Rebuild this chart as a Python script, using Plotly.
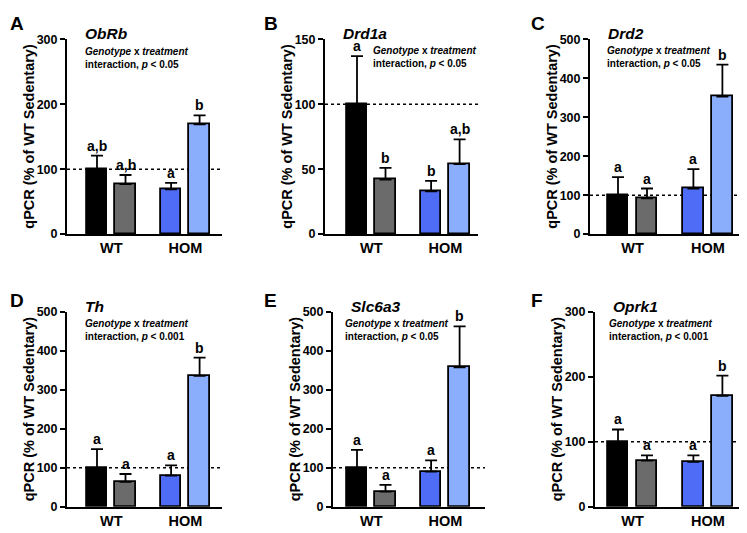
import plotly.graph_objects as go

W, H = 747, 533
OFF = 8  # page body margin offset in px

# ---- data ----
panels = ["A", "B", "C", "D", "E", "F"]
genes = ["ObRb", "Drd1a", "Drd2", "Th", "Slc6a3", "Oprk1"]
pvals = ["p < 0.05", "p < 0.05", "p < 0.05", "p < 0.001", "p < 0.05", "p < 0.001"]
groups = ["WT", "HOM"]
# bar order: WT sedentary, WT treated, HOM sedentary, HOM treated
means = [
    [100, 77, 69, 169],
    [100, 42, 33, 54],
    [100, 92, 117, 353],
    [100, 64, 80, 336],
    [100, 39, 90, 358],
    [100, 71, 69, 171],
]
sems = [
    [21, 14, 10, 14],
    [37, 9, 8, 19],
    [46, 25, 50, 82],
    [48, 20, 26, 47],
    [46, 17, 29, 105],
    [19, 8, 10, 31],
]
letters = [
    ["a,b", "a,b", "a", "b"],
    ["a", "b", "b", "a,b"],
    ["a", "a", "a", "b"],
    ["a", "a", "a", "b"],
    ["a", "a", "a", "b"],
    ["a", "a", "a", "b"],
]
ymax = [300, 150, 500, 500, 500, 300]
ydtick = [100, 50, 100, 100, 100, 100]

colors = ["#000000", "#6b6b6b", "#4f6cf6", "#8aaefb"]
pos = [0, 1, 2.6, 3.6]

# ---- layout geometry (reference pixels) ----
geo = [
    (67, 222, 97, 28.5),
    (325, 478, 357, 28.5),
    (590, 747, 618, 29),
    (67, 222, 97, 28.5),
    (333, 485, 357, 28.5),
    (595, 747, 618, 29),
]
rows_px = [(33, 233), (313, 513)]


def px(x):
    return (x - OFF) / W


def py(y):
    return 1 - (y - OFF) / H


fig = go.Figure()
FONT = "Arial, Liberation Sans, Helvetica, sans-serif"
annotations = []
shapes = []

for i in range(6):
    r = i // 3
    n = i + 1
    xa = "x" if n == 1 else f"x{n}"
    ya = "y" if n == 1 else f"y{n}"
    left, right, c0, u = geo[i]
    top, bot = rows_px[r]
    xr = [(left - c0) / u, (right - c0) / u]
    fig.add_trace(go.Bar(
        x=pos, y=means[i], width=0.72,
        marker=dict(color=colors, line=dict(color="black", width=1.8)),
        error_y=dict(type="data", symmetric=False, array=sems[i],
                     arrayminus=[0] * 4, color="black", thickness=1.8, width=6),
        xaxis=xa, yaxis=ya, showlegend=False, hoverinfo="skip",
    ))
    xkey = "xaxis" if n == 1 else f"xaxis{n}"
    ykey = "yaxis" if n == 1 else f"yaxis{n}"
    fig.layout[xkey] = dict(
        domain=[px(left), min(px(right), 1)], range=xr, anchor=ya,
        showline=True, linecolor="black", linewidth=2, ticks="",
        tickvals=[0.5, 3.1], ticktext=groups, showgrid=False, zeroline=False,
        tickfont=dict(family=FONT, size=14.5, color="black", weight="bold"),
        fixedrange=True,
    )
    fig.layout[ykey] = dict(
        domain=[py(bot), py(top)], range=[0, ymax[i]], anchor=xa,
        showline=True, linecolor="black", linewidth=2, ticks="outside",
        ticklen=5, tickwidth=2, tickcolor="black", dtick=ydtick[i],
        showgrid=False, zeroline=False,
        tickfont=dict(family=FONT, size=12.5, color="black", weight="bold"),
        fixedrange=True,
    )
    shapes.append(dict(type="line", xref=f"{xa} domain", yref=ya, x0=0, x1=1,
                       y0=100, y1=100, line=dict(color="black", width=1.5, dash="dot"),
                       layer="below"))
    for j in range(4):
        annotations.append(dict(
            x=pos[j], y=means[i][j] + sems[i][j], xref=xa, yref=ya,
            text=f"<b>{letters[i][j]}</b>", showarrow=False, yanchor="bottom",
            yshift=0, font=dict(family=FONT, size=14, color="black")))
    # y axis title
    annotations.append(dict(
        x=px(left - 38), y=py((top + bot) / 2), xref="paper", yref="paper",
        text="<b>qPCR (% of WT Sedentary)</b>", textangle=-90, showarrow=False,
        xanchor="center", yanchor="middle",
        font=dict(family=FONT, size=14.5, color="black")))
    # panel letter
    lx = [8, 262, 529][i % 3]
    annotations.append(dict(
        x=px(lx), y=py(17 + r * 284), xref="paper", yref="paper",
        text=f"<b>{panels[i]}</b>", showarrow=False, xanchor="left", yanchor="middle",
        font=dict(family=FONT, size=19, color="black")))
    # gene title
    annotations.append(dict(
        x=px(left + 16), y=py(top - 6), xref="paper", yref="paper",
        text=f"<b><i>{genes[i]}</i></b>", showarrow=False, xanchor="left",
        yanchor="middle", font=dict(family=FONT, size=15.5, color="black")))

sub_px = [(83, 46), (371, 45), (605, 45), (83, 326), (343, 326), (607, 326)]
for i in range(6):
    sx, sy = sub_px[i]
    annotations.append(dict(
        x=px(sx), y=py(sy + 6), xref="paper", yref="paper",
        text=f"<b><i>Genotype</i> x <i>treatment</i></b><br><b>interaction, <i>p</i>{pvals[i][1:]}</b>",
        showarrow=False, xanchor="left", yanchor="middle", align="left",
        font=dict(family=FONT, size=10, color="black")))

fig.update_layout(
    width=W, height=H, margin=dict(l=0, r=0, t=0, b=0),
    paper_bgcolor="white", plot_bgcolor="white",
    annotations=annotations, shapes=shapes, bargap=0,
)
fig.write_html("out.html", config={"displayModeBar": False})
